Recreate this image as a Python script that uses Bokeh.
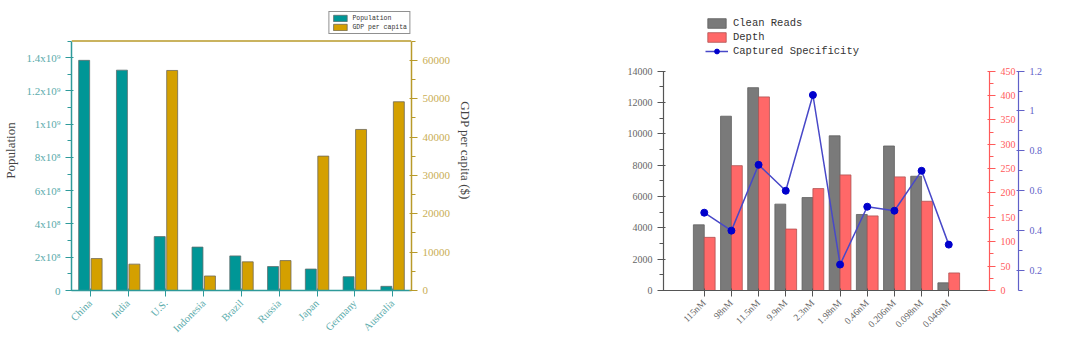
import math
from bokeh.plotting import figure
from bokeh.models import (FactorRange, Range1d, LinearAxis, SingleIntervalTicker,
                          Legend, LegendItem, ColumnDataSource, Span)
from bokeh.transform import dodge
from bokeh.layouts import row
from bokeh.embed import file_html
from bokeh.resources import INLINE

# ---------------- data ----------------
countries = ["China", "India", "U.S.", "Indonesia", "Brazil", "Russia", "Japan", "Germany", "Australia"]
population = [1.384e9, 1.325e9, 0.324e9, 0.261e9, 0.208e9, 0.144e9, 0.129e9, 0.083e9, 0.025e9]
gdp_per_capita = [8320, 6870, 57340, 3780, 7470, 7800, 35020, 41970, 49180]
pop_tick_labels = {0: "0", 200000000: "2x10\u2078", 400000000: "4x10\u2078", 600000000: "6x10\u2078",
                   800000000: "8x10\u2078", 1000000000: "1x10\u2079", 1200000000: "1.2x10\u2079",
                   1400000000: "1.4x10\u2079"}

concentrations = ["115nM", "98nM", "11.5nM", "9.9nM", "2.3nM", "1.98nM", "0.46nM", "0.206nM", "0.098nM", "0.046nM"]
clean_reads = [4190, 11120, 12940, 5510, 5930, 9870, 4850, 9220, 7290, 490]
depth = [109, 256, 397, 126, 209, 237, 153, 233, 183, 36]
captured_specificity = [0.49, 0.40, 0.73, 0.60, 1.08, 0.23, 0.52, 0.50, 0.70, 0.33]

# axis extents shown in the charts
POP_MAX, GDP_MAX = 1.5e9, 65000
READS_MAX, DEPTH_MAX, SPEC_MIN, SPEC_MAX = 14000, 450, 0.1, 1.2

# ---------------- styles ----------------
TEAL = "#009696"
TEAL_AX = "#2E9A9A"
TEAL_TXT = "#5AABAB"
GOLD = "#D4A000"
GOLD_AX = "#B89A2A"
GOLD_TXT = "#C9AE55"
SERIF = "Liberation Serif"
MONO = "Liberation Mono"

# Frame is taller than the axes so the legend (which sits above the plotted area) is not clipped.
L_TOP, L_AX_TOP, L_BOT = 6, 37, 290          # pixel rows: frame top, axis top, axis bottom
l_ext = (L_BOT - L_TOP) / (L_BOT - L_AX_TOP)

# ---------------- left chart ----------------
p1 = figure(width=480, height=352, output_backend="svg", toolbar_location=None,
            x_range=FactorRange(*countries, range_padding=0),
            y_range=Range1d(0, POP_MAX * l_ext),
            min_border_left=70, min_border_right=69, min_border_top=L_TOP, min_border_bottom=352 - L_BOT)
p1.extra_y_ranges = {"gdp": Range1d(0, GDP_MAX * l_ext)}
p1.grid.visible = False
p1.outline_line_color = None
p1.add_layout(Span(location=POP_MAX, dimension="width", line_color=GOLD_AX, line_width=1.5))

src1 = ColumnDataSource(dict(country=countries, pop=population, gdp=gdp_per_capita))
r_pop = p1.vbar(x=dodge("country", -0.165, range=p1.x_range), top="pop", width=0.29, source=src1,
                fill_color=TEAL, line_color="#5f6f6f", line_width=0.8)
r_gdp = p1.vbar(x=dodge("country", 0.165, range=p1.x_range), top="gdp", width=0.29, source=src1,
                y_range_name="gdp", fill_color=GOLD, line_color="#6f6a5a", line_width=0.8)

yl = p1.yaxis[0]
yl.bounds = (0, POP_MAX)
yl.ticker = SingleIntervalTicker(interval=2e8, num_minor_ticks=2)
yl.major_label_overrides = pop_tick_labels
yl.axis_label = "Population"
yl.axis_line_color = TEAL_AX
yl.axis_line_width = 1.5
yl.major_tick_line_color = TEAL_AX
yl.minor_tick_line_color = TEAL_AX
yl.major_label_text_color = TEAL_TXT
yl.major_label_text_font = SERIF
yl.major_label_text_font_size = "11px"
yl.axis_label_text_font = SERIF
yl.axis_label_text_font_style = "normal"
yl.axis_label_text_font_size = "13px"
yl.axis_label_text_color = "#444444"

xl = p1.xaxis[0]
xl.axis_line_color = TEAL_AX
xl.axis_line_width = 1.5
xl.major_tick_line_color = TEAL_AX
xl.major_label_text_color = TEAL_TXT
xl.major_label_text_font = SERIF
xl.major_label_text_font_size = "10.5px"
xl.major_label_orientation = math.pi / 4

yr = LinearAxis(y_range_name="gdp", bounds=(0, GDP_MAX),
                ticker=SingleIntervalTicker(interval=10000, num_minor_ticks=2),
                axis_label="GDP per capita ($)")
yr.axis_line_color = GOLD_AX
yr.axis_line_width = 1.5
yr.major_tick_line_color = GOLD_AX
yr.minor_tick_line_color = GOLD_AX
yr.major_label_text_color = GOLD_TXT
yr.major_label_text_font = SERIF
yr.major_label_text_font_size = "11px"
yr.axis_label_text_font = SERIF
yr.axis_label_text_font_style = "normal"
yr.axis_label_text_font_size = "13px"
yr.axis_label_text_color = "#444444"
p1.add_layout(yr, "right")

leg1 = Legend(items=[LegendItem(label="Population", renderers=[r_pop]),
                     LegendItem(label="GDP per capita", renderers=[r_gdp])],
              location="top_right", orientation="vertical",
              glyph_width=17, glyph_height=8, label_height=8, label_standoff=4,
              label_text_font=MONO, label_text_font_size="6.5px", label_text_color="#333333",
              spacing=1, padding=2, margin=1,
              border_line_color="#222222", border_line_width=1, background_fill_color="white")
p1.add_layout(leg1)

# ---------------- right chart ----------------
GRAY = "#7A7A7A"
RED = "#FF6868"
RED_AX = "#FF5A5A"
BLUE_LINE = "#4848C8"
BLUE_PT = "#0000CC"
BLUE_AX = "#6060C8"
LBL = "#666666"

R_TOP, R_AX_TOP, R_BOT = 10, 71, 292
r_ext = (R_BOT - R_TOP) / (R_BOT - R_AX_TOP)

p2 = figure(width=600, height=352, output_backend="svg", toolbar_location=None,
            x_range=FactorRange(*concentrations, range_padding=1, range_padding_units="absolute"),
            y_range=Range1d(0, READS_MAX * r_ext),
            min_border_left=183, min_border_right=91, min_border_top=R_TOP, min_border_bottom=352 - R_BOT)
p2.extra_y_ranges = {"depth": Range1d(0, DEPTH_MAX * r_ext),
                     "spec": Range1d(SPEC_MIN, SPEC_MIN + (SPEC_MAX - SPEC_MIN) * r_ext)}
p2.grid.visible = False
p2.outline_line_color = None

src2 = ColumnDataSource(dict(conc=concentrations, reads=clean_reads, depth=depth, spec=captured_specificity))
r_reads = p2.vbar(x=dodge("conc", -0.2, range=p2.x_range), top="reads", width=0.4, source=src2,
                  fill_color=GRAY, line_color="#606060", line_width=0.8)
r_depth = p2.vbar(x=dodge("conc", 0.2, range=p2.x_range), top="depth", width=0.4, source=src2,
                  y_range_name="depth", fill_color=RED, line_color="#b05050", line_width=0.8)
r_line = p2.line(x="conc", y="spec", source=src2, y_range_name="spec", line_color=BLUE_LINE, line_width=1.5)
r_pts = p2.scatter(x="conc", y="spec", source=src2, y_range_name="spec", marker="circle", size=7,
                   fill_color=BLUE_PT, line_color=BLUE_PT)

ly = p2.yaxis[0]
ly.bounds = (0, READS_MAX)
ly.ticker = SingleIntervalTicker(interval=2000, num_minor_ticks=2)
ly.axis_line_color = "#555555"
ly.axis_line_width = 1.2
ly.major_tick_line_color = "#555555"
ly.minor_tick_line_color = "#555555"
ly.major_label_text_color = LBL
ly.major_label_text_font = SERIF
ly.major_label_text_font_size = "10px"

lx = p2.xaxis[0]
lx.axis_line_color = "#555555"
lx.axis_line_width = 1.2
lx.major_tick_line_color = "#555555"
lx.major_label_text_color = LBL
lx.major_label_text_font = SERIF
lx.major_label_text_font_size = "9.5px"
lx.major_label_orientation = math.pi / 4

ra = LinearAxis(y_range_name="depth", bounds=(0, DEPTH_MAX),
                ticker=SingleIntervalTicker(interval=50, num_minor_ticks=2))
ra.axis_line_color = RED_AX
ra.axis_line_width = 1.2
ra.major_tick_line_color = RED_AX
ra.minor_tick_line_color = RED_AX
ra.major_label_text_color = RED_AX
ra.major_label_text_font = SERIF
ra.major_label_text_font_size = "10px"
p2.add_layout(ra, "right")

ba = LinearAxis(y_range_name="spec", bounds=(SPEC_MIN, SPEC_MAX + 1e-6),
                ticker=SingleIntervalTicker(interval=0.2, num_minor_ticks=2))
ba.axis_line_color = BLUE_AX
ba.axis_line_width = 1.2
ba.major_tick_line_color = BLUE_AX
ba.minor_tick_line_color = BLUE_AX
ba.major_label_text_color = BLUE_AX
ba.major_label_text_font = SERIF
ba.major_label_text_font_size = "10px"
p2.add_layout(ba, "right")

leg2 = Legend(items=[LegendItem(label="Clean Reads", renderers=[r_reads]),
                     LegendItem(label="Depth", renderers=[r_depth]),
                     LegendItem(label="Captured Specificity", renderers=[r_line, r_pts])],
              location=(42, 233), orientation="vertical",
              glyph_width=23, glyph_height=12, label_height=12, label_standoff=5,
              label_text_font=MONO, label_text_font_size="10.5px", label_text_color="#333333",
              spacing=2, padding=2, margin=0,
              border_line_color=None, background_fill_alpha=0)
p2.add_layout(leg2)

layout = row(p1, p2)
open("out.html", "w").write(file_html(layout, INLINE))
